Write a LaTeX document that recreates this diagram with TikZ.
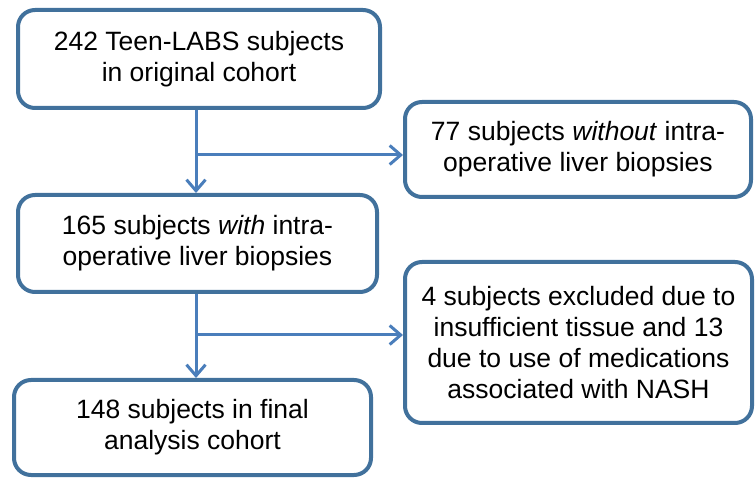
\documentclass[tikz,border=0pt]{standalone}
\usepackage{fontspec}
\setmainfont{Liberation Sans}
\usetikzlibrary{arrows.meta}
\definecolor{boxline}{RGB}{65,113,156}
\definecolor{flowline}{RGB}{74,126,187}
\tikzset{
  stage/.style={draw=boxline, line width=4pt, rounded corners=17pt, fill=white,
    align=center, inner sep=0pt, font=\fontsize{26.5}{31}\selectfont},
  flow/.style={draw=flowline, line width=3pt, -{Straight Barb[length=11pt,width=19pt,line width=3pt]}}
}
\begin{document}
\begin{tikzpicture}[x=1pt, y=-1pt, line join=round]
  \useasboundingbox (0,0) rectangle (756,481);
  % main column
  \node[stage, minimum width=362pt, minimum height=98pt] (start) at (199,59)
    {242 Teen-LABS subjects\\in original cohort};
  \node[stage, minimum width=359pt, minimum height=97pt] (biopsy) at (197.5,243.5)
    {165 subjects \textit{with} intra-\\operative liver biopsies};
  \node[stage, minimum width=357pt, minimum height=95pt] (final) at (192.5,427.5)
    {148 subjects in final\\analysis cohort};
  % exclusions
  \node[stage, minimum width=346pt, minimum height=95pt] (nobiopsy) at (578,149.5)
    {77 subjects \textit{without} intra-\\operative liver biopsies};
  \node[stage, minimum width=347pt, minimum height=161pt] (excluded) at (578.5,342.5)
    {4 subjects excluded due to\\insufficient tissue and 13\\due to use of medications\\associated with NASH};
  % connectors
  \coordinate (split1) at (196,155);
  \coordinate (split2) at (196,335);
  \draw[flow] (start.south -| split1) -- (biopsy.north -| split1);
  \draw[flow] (split1) -- (nobiopsy.west |- split1);
  \draw[flow] (biopsy.south -| split2) -- (final.north -| split2);
  \draw[flow] (split2) -- (excluded.west |- split2);
\end{tikzpicture}
\end{document}
